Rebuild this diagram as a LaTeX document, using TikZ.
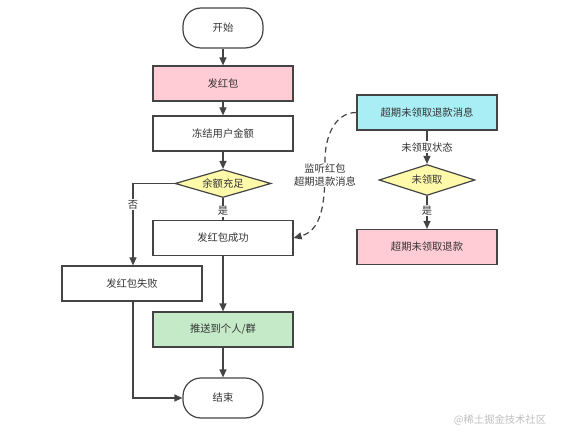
\documentclass[tikz,border=0pt]{standalone}
\usepackage{fontspec}
\setmainfont{Noto Sans CJK SC}
\usetikzlibrary{arrows.meta,shapes.geometric}

\definecolor{linegray}{HTML}{444444}
\definecolor{textgray}{HTML}{333333}
\definecolor{boxpink}{HTML}{FFCCD6}
\definecolor{boxcyan}{HTML}{A9EEF4}
\definecolor{boxgreen}{HTML}{C4EAC8}
\definecolor{boxyellow}{HTML}{FFFAAA}

\newcommand{\chartfont}{\fontsize{10.3}{13}\selectfont}

\begin{document}
\begin{tikzpicture}[
    x = 1pt, y = -1pt,
    line width = 1.2pt,
    color = linegray,
    >={Triangle[length=8pt, width=7pt]},
    step box/.style = {draw, rectangle,
      font = \chartfont, text = textgray,
      minimum width = 140pt, minimum height = 35pt},
    terminal/.style = {step box, rounded corners = 18pt,
      minimum width = 80pt, minimum height = 40pt},
    decision/.style = {draw, diamond, aspect = 3.4, fill = boxyellow,
      font = \chartfont, text = textgray, inner sep = 0pt,
      minimum width = 96pt, minimum height = 28pt},
    tag/.style = {fill = white, font = \chartfont, text = textgray,
      inner sep = 1pt, align = center},
    ]

    \useasboundingbox (0, 0) rectangle (571, 441);

    % main flow
    \node at (223, 28) [terminal, name = start] {开始};
    \node at (223, 83.5) [step box, fill = boxpink, name = send] {发红包};
    \node at (223, 133.5) [step box, name = freeze] {冻结用户金额};
    \node at (223, 183.5) [decision, name = enough] {余额充足};
    \node at (223, 238) [step box, name = success] {发红包成功};
    \node at (132, 283.5) [step box, name = fail] {发红包失败};
    \node at (223, 329.5) [step box, fill = boxgreen, name = push] {推送到个人/群};
    \node at (223, 398) [terminal, name = finish] {结束};

    % refund flow
    \node at (427, 112.5) [step box, fill = boxcyan, name = expire] {超期未领取退款消息};
    \node at (427, 180) [decision, minimum height = 31pt, name = unclaimed] {未领取};
    \node at (427, 247) [step box, fill = boxpink, name = refund] {超期未领取退款};

    \draw [->] (start) to (send);
    \draw [->] (send) to (freeze);
    \draw [->] (freeze) to (enough);

    \draw (enough) to node [tag, pos = 0.6] {是} (success);
    \draw [->] (enough.west) -| node [tag, pos = 0.63] {否} (fail.north -| 133, 0);

    \draw [->] (success) to (push);
    \draw [->] (push) to (finish);
    \draw [->] (fail.south -| 133, 0) |- (finish.west);

    \draw [->] (expire) to node [tag] {未领取状态} (unclaimed);
    \draw [->] (unclaimed) to node [tag, pos = 0.45] {是} (refund);

    \draw [->, dashed, dash pattern = on 6pt off 4pt] (expire.west)
    to [out = 180, in = 90] (325, 160)
    to [out = -90, in = 15] (success.east);
    \node at (325, 175) [tag, name = listen] {监听红包\\超期退款消息};

    \node at (500, 420) [font = \chartfont, text = black!25, name = mark] {@稀土掘金技术社区};

  \end{tikzpicture}
\end{document}
